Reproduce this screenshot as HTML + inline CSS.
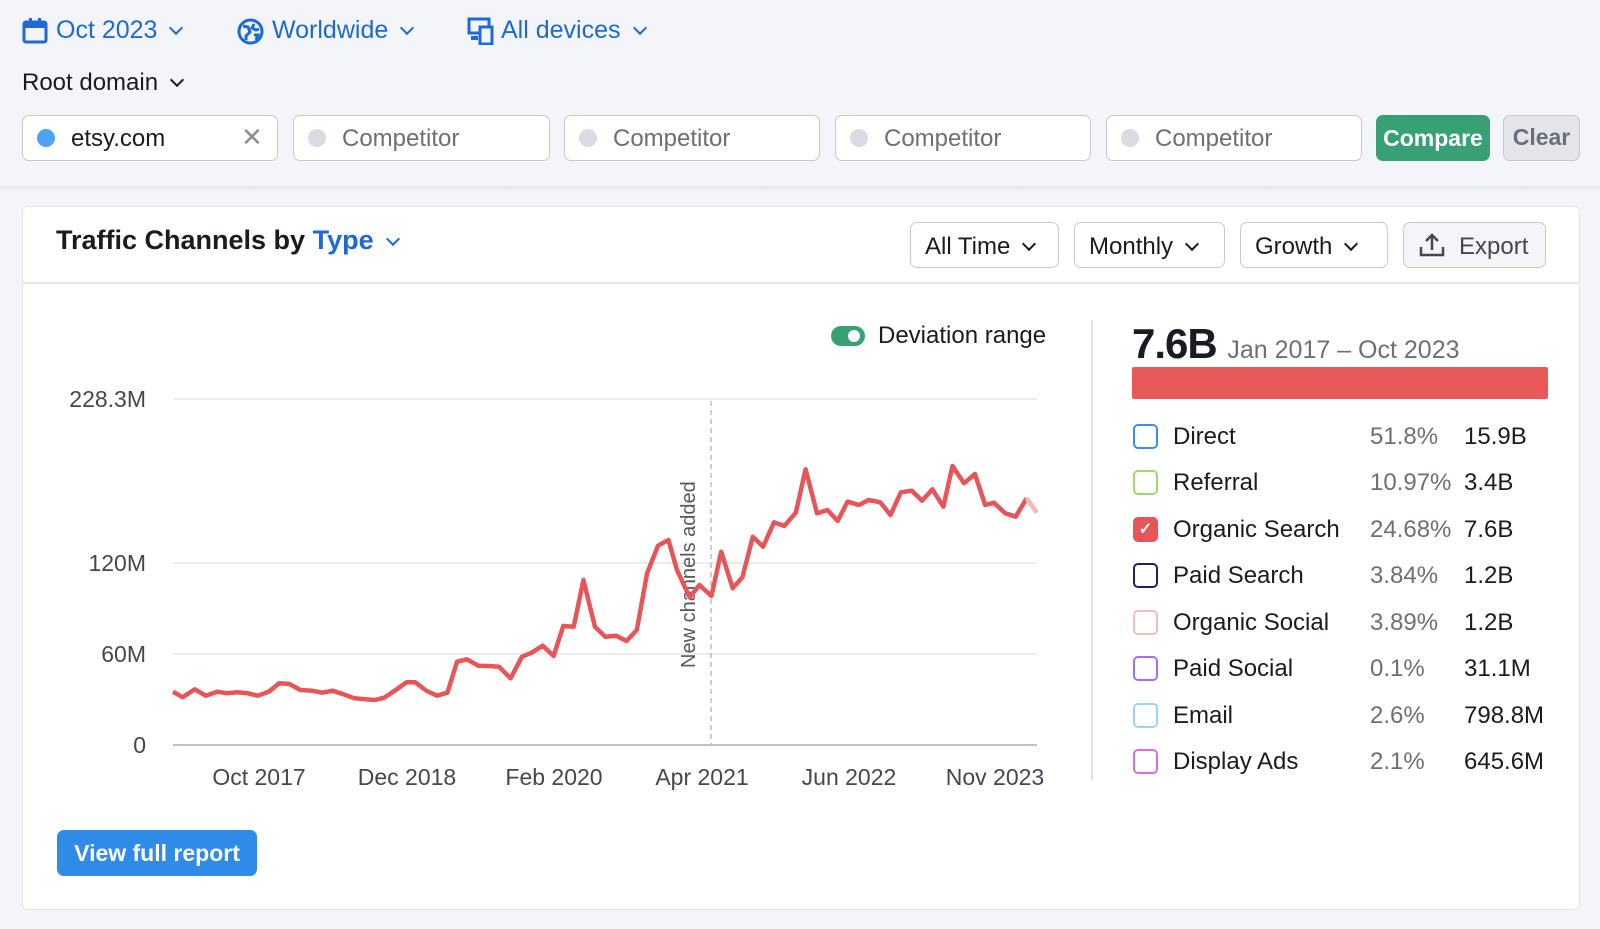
<!DOCTYPE html>
<html><head><meta charset="utf-8"><style>
*{box-sizing:border-box;margin:0;padding:0}
body{width:1600px;height:929px;background:#f4f5f9;font-family:"Liberation Sans",sans-serif;position:relative;overflow:hidden;color:#191b23}
.a{position:absolute;white-space:nowrap}
span{white-space:nowrap}
.blue{color:#1d6ad4}
.inp{position:absolute;top:115px;height:46px;background:#fff;border:1.5px solid #c7c9d1;border-radius:7px}
.inp .dot{position:absolute;left:14px;top:13px;width:18px;height:18px;border-radius:50%;background:#dadce3}
.inp span{position:absolute;left:48px;top:9px;font-size:24px;color:#6c6e79}
.btn{position:absolute;top:222px;height:46px;border:1.5px solid #c7c9d1;border-radius:7px;background:#fff;font-size:24px;padding:10px 0 0 14px;color:#191b23;white-space:nowrap}
.chev{display:inline-block;width:10px;height:10px;border-right:2.5px solid currentColor;border-bottom:2.5px solid currentColor;transform:rotate(45deg);margin-left:14px;position:relative;top:-5px}
.row{position:absolute;left:1133px;font-size:24px;height:30px;width:420px}
.cb{position:absolute;left:0;top:2px;width:25px;height:25px;border:2px solid;border-radius:5px;background:#fff}
.row .l{position:absolute;left:40px;top:1px}
.row .p{position:absolute;left:237px;top:1px;color:#6c6e79}
.row .v{position:absolute;left:331px;top:1px}
</style></head><body>
<svg class="a" style="left:22px;top:17px" width="26" height="27" viewBox="0 0 26 27"><rect x="2" y="5" width="22" height="20" rx="2" fill="none" stroke="#1d6ad4" stroke-width="3"/><rect x="2" y="5" width="22" height="6" fill="#1d6ad4"/><rect x="7" y="1" width="3" height="6" fill="#1d6ad4"/><rect x="16" y="1" width="3" height="6" fill="#1d6ad4"/></svg>
<div class="a blue" style="left:56px;top:16px;font-size:25px">Oct 2023<span class="chev"></span></div>
<svg class="a" style="left:237px;top:18px" width="27" height="27" viewBox="0 0 27 27"><circle cx="13.5" cy="13.5" r="11.5" fill="none" stroke="#1d6ad4" stroke-width="3"/><path d="M6 8 L11 9 L13 14 L9 18 L9 22 M17 6 L15 10 L19 12 L22 11 M17 17 L21 17 L19 22" fill="none" stroke="#1d6ad4" stroke-width="3"/></svg>
<div class="a blue" style="left:272px;top:16px;font-size:25px">Worldwide<span class="chev"></span></div>
<svg class="a" style="left:467px;top:17px" width="28" height="28" viewBox="0 0 28 28"><rect x="2" y="2" width="20" height="14" fill="none" stroke="#1d6ad4" stroke-width="3"/><rect x="13" y="10" width="12" height="17" fill="#f4f5f9" stroke="#1d6ad4" stroke-width="3"/><rect x="4" y="19" width="7" height="4" fill="#1d6ad4"/></svg>
<div class="a blue" style="left:501px;top:16px;font-size:25px">All devices<span class="chev"></span></div>
<div class="a" style="left:22px;top:69px;font-size:24px">Root domain<span class="chev"></span></div>
<div class="inp" style="left:22px;width:256px"><div class="dot" style="background:#4da3f5"></div><span style="color:#191b23">etsy.com</span><span style="left:218px;color:#8a8c96;top:6px;font-size:26px">✕</span></div>
<div class="inp" style="left:293px;width:257px"><div class="dot"></div><span>Competitor</span></div>
<div class="inp" style="left:564px;width:256px"><div class="dot"></div><span>Competitor</span></div>
<div class="inp" style="left:835px;width:256px"><div class="dot"></div><span>Competitor</span></div>
<div class="inp" style="left:1106px;width:256px"><div class="dot"></div><span>Competitor</span></div>
<div class="a" style="left:1376px;top:115px;width:114px;height:46px;background:#37a074;border-radius:7px;color:#fff;font-size:23px;font-weight:bold;text-align:center;line-height:46px">Compare</div>
<div class="a" style="left:1503px;top:115px;width:77px;height:46px;background:#e3e5ea;border:1.5px solid #c7c9d1;border-radius:7px;color:#6c6e79;font-size:23px;font-weight:bold;text-align:center;line-height:43px">Clear</div>
<div class="a" style="left:0;top:186px;width:1600px;height:6px;background:linear-gradient(#e2e4ea,#f4f5f9)"></div>
<div class="a" style="left:22px;top:206px;width:1558px;height:704px;background:#fff;border:1px solid #e3e5ea;border-radius:6px"></div>
<div class="a" style="left:23px;top:282px;width:1556px;height:2px;background:#e3e5ea"></div>
<div class="a" style="left:56px;top:225px;font-size:27px;font-weight:bold">Traffic Channels by <span class="blue">Type</span><span class="chev blue" style="color:#1d6ad4"></span></div>
<div class="btn" style="left:910px;width:149px">All Time<span class="chev"></span></div>
<div class="btn" style="left:1074px;width:151px">Monthly<span class="chev"></span></div>
<div class="btn" style="left:1240px;width:148px">Growth<span class="chev"></span></div>
<div class="btn" style="left:1403px;width:143px;background:#f4f5f9;color:#45474f;padding-left:55px">Export</div>
<svg class="a" style="left:1419px;top:232px" width="26" height="26" viewBox="0 0 26 26"><path d="M2 15 V23 H24 V15 M13 18 V3 M7 9 L13 3 L19 9" fill="none" stroke="#45474f" stroke-width="2.5"/></svg>
<div class="a" style="left:831px;top:326px;width:34px;height:20px;border-radius:10px;background:#37a074"></div>
<div class="a" style="left:848px;top:330px;width:12px;height:12px;border-radius:50%;background:#fff"></div>
<div class="a" style="left:878px;top:322px;font-size:24px">Deviation range</div>
<svg class="a" style="left:0;top:0" width="1600" height="929">
<g stroke="#e3e5ea" stroke-width="1.5"><line x1="173" y1="399" x2="1037" y2="399"/><line x1="173" y1="563" x2="1037" y2="563"/><line x1="173" y1="654" x2="1037" y2="654"/></g>
<line x1="173" y1="745" x2="1037" y2="745" stroke="#bfc2c9" stroke-width="2"/>
<line x1="711" y1="401" x2="711" y2="745" stroke="#aeb1b8" stroke-width="1.3" stroke-dasharray="5,4"/>
<g font-size="23" fill="#45474f" text-anchor="end" font-family="Liberation Sans"><text x="146" y="407">228.3M</text><text x="146" y="571">120M</text><text x="146" y="662">60M</text><text x="146" y="753">0</text></g>
<g font-size="23" fill="#45474f" text-anchor="middle" font-family="Liberation Sans"><text x="259" y="785">Oct 2017</text><text x="407" y="785">Dec 2018</text><text x="554" y="785">Feb 2020</text><text x="702" y="785">Apr 2021</text><text x="849" y="785">Jun 2022</text><text x="995" y="785">Nov 2023</text></g>
<text transform="translate(695,668) rotate(-90)" font-size="20" fill="#55575f" font-family="Liberation Sans">New channels added</text>
<polyline id="ln" fill="none" stroke="#e85558" stroke-width="4.5" stroke-linejoin="round"/>
<polyline id="ln2" fill="none" stroke="#f5b7b8" stroke-width="4.5"/>
</svg>
<div class="a" style="left:1091px;top:320px;width:2px;height:460px;background:#dfe1e6"></div>
<div class="a" style="left:1132px;top:320px;font-size:42px;font-weight:bold;letter-spacing:-1px">7.6B <span style="font-size:25px;color:#6c6e79;font-weight:normal;letter-spacing:0">Jan 2017 – Oct 2023</span></div>
<div class="a" style="left:1132px;top:367px;width:416px;height:32px;background:#e85858;border-radius:2px"></div>
<div class="row" style="top:422px"><div class="cb" style="border-color:#3b8ef0"></div><span class="l">Direct</span><span class="p">51.8%</span><span class="v">15.9B</span></div>
<div class="row" style="top:468px"><div class="cb" style="border-color:#9fd86b"></div><span class="l">Referral</span><span class="p">10.97%</span><span class="v">3.4B</span></div>
<div class="row" style="top:515px"><div class="cb" style="border-color:#e85558;background:#e85558;color:#fff;font-size:16px;text-align:center;line-height:21px;font-weight:bold">✓</div><span class="l">Organic Search</span><span class="p">24.68%</span><span class="v">7.6B</span></div>
<div class="row" style="top:561px"><div class="cb" style="border-color:#2a1a6e"></div><span class="l">Paid Search</span><span class="p">3.84%</span><span class="v">1.2B</span></div>
<div class="row" style="top:608px"><div class="cb" style="border-color:#f6bcbc"></div><span class="l">Organic Social</span><span class="p">3.89%</span><span class="v">1.2B</span></div>
<div class="row" style="top:654px"><div class="cb" style="border-color:#a36ef5"></div><span class="l">Paid Social</span><span class="p">0.1%</span><span class="v">31.1M</span></div>
<div class="row" style="top:701px"><div class="cb" style="border-color:#9ed0fb"></div><span class="l">Email</span><span class="p">2.6%</span><span class="v">798.8M</span></div>
<div class="row" style="top:747px"><div class="cb" style="border-color:#dd6ee0"></div><span class="l">Display Ads</span><span class="p">2.1%</span><span class="v">645.6M</span></div>
<div class="a" style="left:57px;top:830px;width:200px;height:46px;background:#2f8ae8;border-radius:7px;color:#fff;font-size:23px;font-weight:bold;text-align:center;line-height:46px">View full report</div>
<script>
var z=[[40,935],[57,952],[78,928],[97,947],[117,935],[135,940],[152,937],[170,940],[188,947],[207,935],[225,910],[243,912],[262,930],[282,932],[300,938],[318,932],[337,943],[356,955],[375,958],[392,960],[408,953],[428,930],[447,907],[462,907],[482,933],[500,947],[518,938],[535,845],[552,838],[572,857],[590,858],[608,860],[628,895],[648,830],[665,818],[684,797],[703,828],[720,738],[738,740],[755,600],[775,740],[793,770],[812,767],[830,783],[848,750],[866,580],[885,497],[903,480],[918,570],[940,652],[957,615],[978,648],[995,515],[1015,625],[1032,592],[1050,470],[1068,500],[1087,427],[1105,438],[1125,398],[1142,268],[1162,400],[1180,390],[1198,423],[1215,365],[1235,375],[1252,360],[1272,367],[1290,405],[1308,337],[1327,332],[1345,362],[1363,328],[1382,380],[1398,258],[1418,310],[1437,282],[1455,375],[1470,368],[1490,400],[1508,410],[1527,355]];
function c(p){return (150+p[0]/1.742).toFixed(1)+","+(380+p[1]/3).toFixed(1)}
document.getElementById("ln").setAttribute("points",z.map(c).join(" "));
document.getElementById("ln2").setAttribute("points",c([1527,355])+" "+c([1545,398]));
</script>
</body></html>
